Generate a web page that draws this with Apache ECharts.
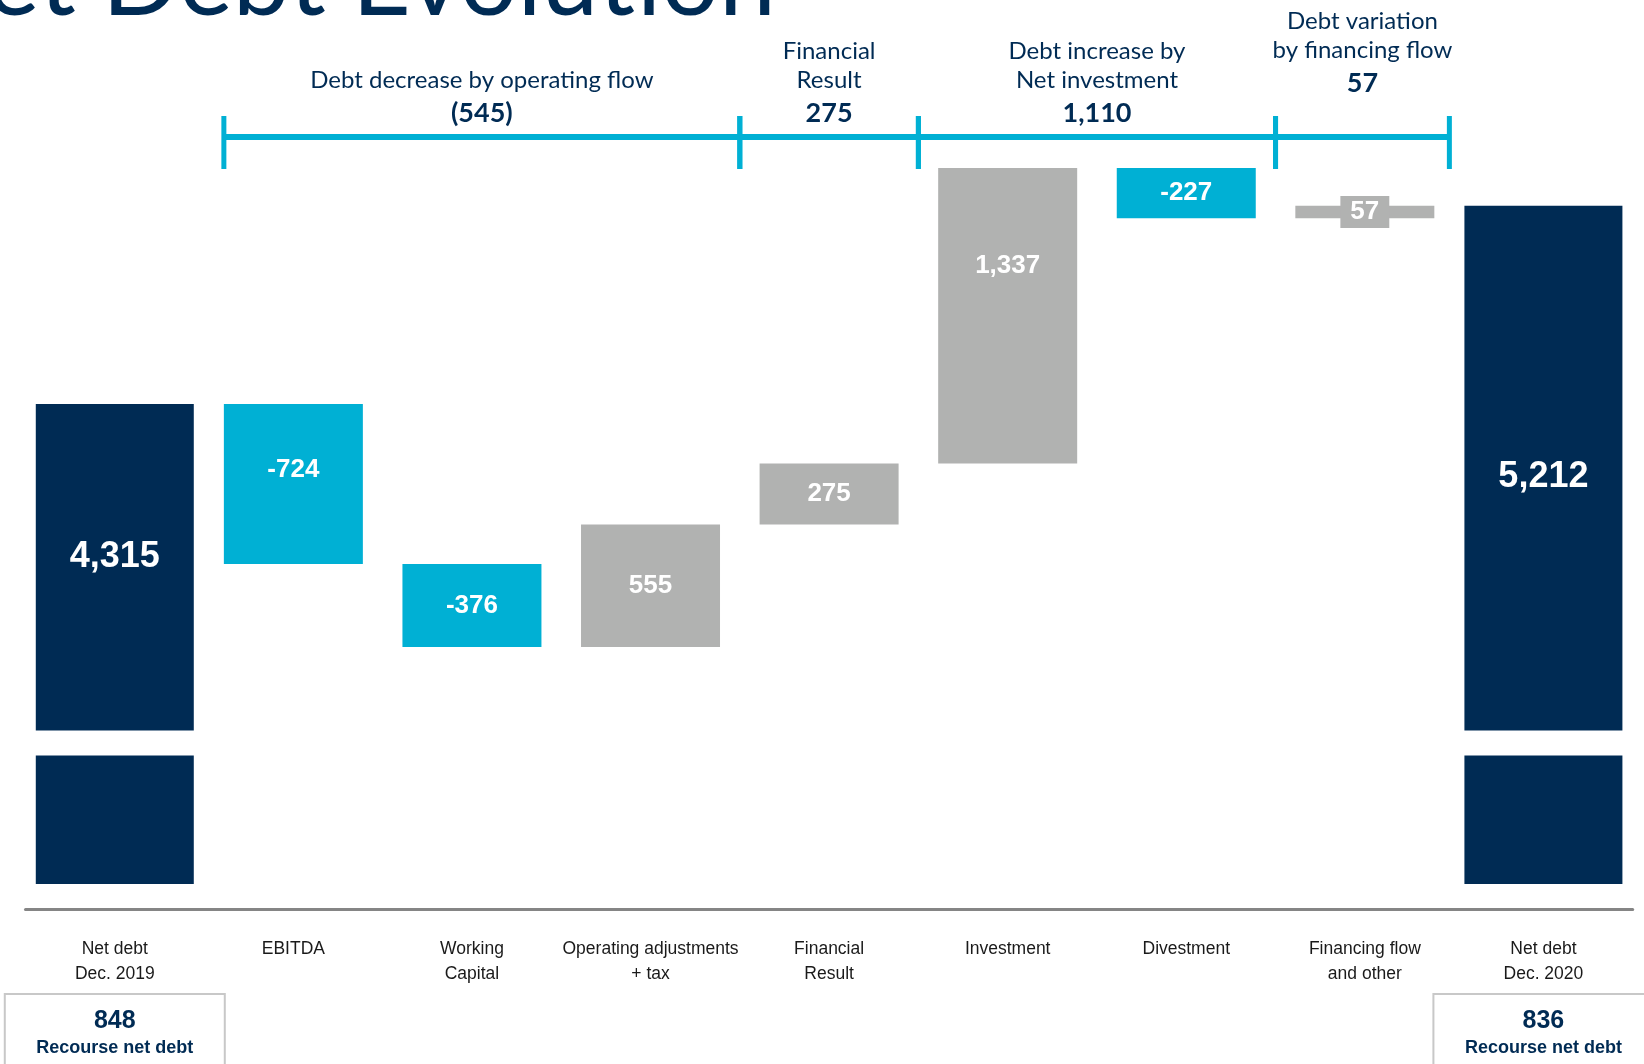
<!DOCTYPE html>
<html>
<head>
<meta charset="utf-8">
<title>Net Debt Evolution</title>
<script src="https://cdn.jsdelivr.net/npm/echarts@6.0.0/dist/echarts.min.js"></script>
<style>
  html, body { margin: 0; padding: 0; background: #fff; }
  #chart { width: 1644px; height: 1064px; }
</style>
</head>
<body>
<div id="chart"></div>
<script>
const categories = [
  'Net debt\nDec. 2019', 'EBITDA', 'Working\nCapital', 'Operating adjustments\n+ tax',
  'Financial\nResult', 'Investment', 'Divestment', 'Financing flow\nand other', 'Net debt\nDec. 2020'
]
const openingDebt = 4315
const closingDebt = 5212
// movements for categories 1..7
const changes = [-724, -376, 555, 275, 1337, -227, 57]
const recourseDebt = [848, 836]

// brackets above the bars (category index ranges)
const groupTitles = ['Debt decrease by operating flow', 'Financial\nResult', 'Debt increase by\nNet investment', 'Debt variation\nby financing flow']
const groupFirst = [1, 4, 5, 7]
const groupLast = [3, 4, 6, 7]

const navy = '#002B54'
const cyan = '#00B0D4'
const grey = '#B1B2B1'
const last = categories.length - 1
const endBarWidth = 158
const midBarWidth = 139

const fmt = v => v.toLocaleString('en-US')

// waterfall: invisible base + visible movement
const base = []
const size = []
let level = openingDebt
changes.forEach(c => {
  const next = level + c
  base.push(Math.min(level, next))
  size.push(Math.abs(c))
  level = next
})

// label vertical placement inside each bar
const endLabelY = ['32%', '40%']
const changeLabelY = ['41%', '50%', '50%', '50%', '33%', '50%', '50%']

const netDebtData = categories.map((c, i) => {
  if (i === 0) return { value: openingDebt, label: { position: ['50%', endLabelY[0]] } }
  if (i === last) return { value: closingDebt, label: { position: ['50%', endLabelY[1]] } }
  return '-'
})
const baseData = categories.map((c, i) => (i === 0 || i === last) ? '-' : base[i - 1])
const changeData = categories.map((c, i) => {
  if (i === 0 || i === last) return '-'
  const item = {
    value: size[i - 1],
    itemStyle: { color: changes[i - 1] < 0 ? cyan : grey },
    label: { position: ['50%', changeLabelY[i - 1]] }
  }
  // bar too thin for its label: give the label a matching backdrop
  if (size[i - 1] < 100) {
    item.label.backgroundColor = item.itemStyle.color
    item.label.padding = [4, 10, 2, 10]
  }
  return item
})

const chart = echarts.init(document.getElementById('chart'))

const option = {
  backgroundColor: '#fff',
  animation: false,
  grid: {
    left: 25.5, right: 11.3, top: 142, bottom: 155,
    containLabel: false, outerBoundsMode: 'none'
  },
  xAxis: [{
    type: 'category',
    data: categories,
    axisLine: { onZero: false, lineStyle: { color: '#858585', width: 3 } },
    axisTick: { show: false },
    axisLabel: {
      interval: 0,
      margin: 28,
      color: '#1a1a1a',
      fontFamily: 'Liberation Sans',
      fontSize: 17.5,
      lineHeight: 25
    }
  }, {
    type: 'category',
    data: categories,
    show: false
  }],
  yAxis: {
    type: 'value',
    min: -113,
    max: 5500,
    axisLine: { show: false },
    axisTick: { show: false },
    axisLabel: { show: false },
    splitLine: { show: false },
    breaks: [{ start: 584, end: 2840, gap: 113 }],
    breakArea: {
      show: true,
      itemStyle: { color: '#fff', borderWidth: 0, opacity: 1 },
      zigzagAmplitude: 0,
      expandOnClick: false
    }
  },
  series: [{
    name: 'Net debt',
    type: 'bar',
    xAxisIndex: 0,
    barWidth: endBarWidth,
    data: netDebtData,
    itemStyle: { color: navy },
    label: {
      show: true,
      align: 'center',
      verticalAlign: 'middle',
      color: '#fff',
      fontFamily: 'Liberation Sans',
      fontWeight: 'bold',
      fontSize: 36,
      formatter: p => fmt(p.value)
    }
  }, {
    name: 'base',
    type: 'bar',
    xAxisIndex: 1,
    stack: 'wf',
    barWidth: midBarWidth,
    data: baseData,
    itemStyle: { color: 'transparent' },
    emphasis: { disabled: true },
    silent: true
  }, {
    name: 'change',
    type: 'bar',
    xAxisIndex: 1,
    stack: 'wf',
    barWidth: midBarWidth,
    data: changeData,
    label: {
      show: true,
      align: 'center',
      verticalAlign: 'middle',
      color: '#fff',
      fontFamily: 'Liberation Sans',
      fontWeight: 'bold',
      fontSize: 26,
      formatter: p => fmt(changes[p.dataIndex - 1])
    }
  }]
}

chart.setOption(option)

// annotations: title, brackets with group totals, recourse debt boxes
const drawAnnotations = () => {
  const x = i => chart.convertToPixel({ xAxisIndex: 0 }, i)
  const halfW = i => (i === 0 || i === last ? endBarWidth : midBarWidth) / 2
  // midpoint of the white space between bar i-1 and bar i
  const between = i => ((x(i - 1) + halfW(i - 1)) + (x(i) - halfW(i))) / 2
  const els = []

  els.push({
    type: 'text', x: 776, y: -18,
    style: { text: 'Net Debt Evolution', fill: navy, font: '102px Lato', align: 'right', verticalAlign: 'middle' }
  })

  const lineY = 137
  let minX = Infinity
  let maxX = -Infinity
  groupTitles.forEach((title, g) => {
    const left = g === 0 ? x(groupFirst[g]) - halfW(groupFirst[g]) : between(groupFirst[g])
    const right = between(groupLast[g] + 1)
    minX = Math.min(minX, left)
    maxX = Math.max(maxX, right)
    ;[left, right].forEach(tx => els.push({
      type: 'line', shape: { x1: tx, y1: 116, x2: tx, y2: 169 },
      style: { stroke: cyan, lineWidth: 5 }
    }))
    let total = 0
    for (let i = groupFirst[g]; i <= groupLast[g]; i++) total += changes[i - 1]
    const valueY = g === groupTitles.length - 1 ? 82 : 112
    const cx = (left + right) / 2
    els.push({
      type: 'text', x: cx, y: valueY - 17.5,
      style: { text: title, fill: navy, font: '24px Lato', lineHeight: 29, align: 'center', verticalAlign: 'bottom' }
    })
    els.push({
      type: 'text', x: cx, y: valueY + 1,
      style: { text: total < 0 ? '(' + fmt(-total) + ')' : fmt(total), fill: navy, font: 'bold 27px Lato', align: 'center', verticalAlign: 'middle' }
    })
  })
  els.push({
    type: 'line', shape: { x1: minX, y1: lineY, x2: maxX, y2: lineY },
    style: { stroke: cyan, lineWidth: 6 }
  })

  ;[0, last].forEach((ci, k) => {
    const cx = x(ci)
    els.push({
      type: 'rect', shape: { x: cx - 110, y: 994, width: 220, height: 100 },
      style: { fill: 'none', stroke: '#C8C8C8', lineWidth: 2 }
    })
    els.push({
      type: 'text', x: cx, y: 1021,
      style: { text: fmt(recourseDebt[k]), fill: navy, font: 'bold 25px "Liberation Sans"', align: 'center', verticalAlign: 'middle' }
    })
    els.push({
      type: 'text', x: cx, y: 1048,
      style: { text: 'Recourse net debt', fill: navy, font: 'bold 18px "Liberation Sans"', align: 'center', verticalAlign: 'middle' }
    })
  })

  chart.setOption({ graphic: { elements: els } })
}

drawAnnotations()

window.addEventListener('resize', () => {
  chart.resize()
  drawAnnotations()
})
</script>
</body>
</html>
